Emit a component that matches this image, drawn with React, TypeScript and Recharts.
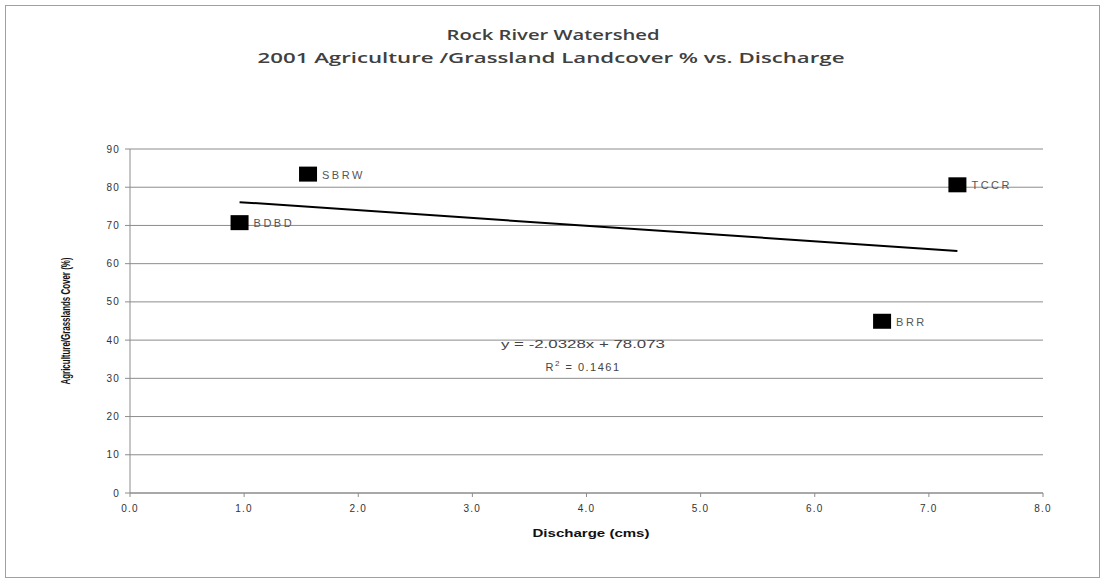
import React from "react";
import { ScatterChart, Scatter, XAxis, YAxis, CartesianGrid, Customized } from "recharts";

const siteNames = ["BDBD", "SBRW", "TCCR", "BRR"];
const discharge = [0.96, 1.56, 7.25, 6.59];
const agCover = [70.6, 83.3, 80.5, 44.8];
const trendX = [0.96, 7.25];
const trendY = [76.1, 63.3];
const xTicks = [0, 1, 2, 3, 4, 5, 6, 7, 8];
const yTicks = [0, 10, 20, 30, 40, 50, 60, 70, 80, 90];

const points = siteNames.map((name, i) => ({ name, x: discharge[i], y: agCover[i] }));
const trend = trendX.map((x, i) => ({ x, y: trendY[i] }));

const W = 1102;
const H = 584;

const SquareMarker = (props: any) => {
  const { cx, cy, payload } = props;
  return (
    <g>
      <rect x={cx - 9} y={cy - 8} width={18} height={15} fill="#000" />
      <text
        x={cx + 14}
        y={cy + 4}
        fontSize={11}
        fill="#555"
        letterSpacing={2.5}
        fontFamily="Liberation Sans, Arial, sans-serif"
      >
        {payload.name}
      </text>
    </g>
  );
};

const Overlay = () => (
  <g>
    <rect x={5.5} y={5.5} width={1094} height={572} fill="none" stroke="#a0a0a0" strokeWidth={1} />
    <text
      x={553}
      y={40}
      textAnchor="middle"
      fontSize={15}
      fontWeight={600}
      fill="#404040"
      textLength={213}
      lengthAdjust="spacingAndGlyphs"
      fontFamily="Open Sans, Liberation Sans, sans-serif"
    >
      Rock River Watershed
    </text>
    <text
      x={551}
      y={63}
      textAnchor="middle"
      fontSize={15}
      fontWeight={600}
      fill="#404040"
      textLength={587}
      lengthAdjust="spacingAndGlyphs"
      fontFamily="Open Sans, Liberation Sans, sans-serif"
    >
      2001 Agriculture /Grassland Landcover % vs. Discharge
    </text>
    <text
      x={591}
      y={537}
      textAnchor="middle"
      fontSize={10}
      fontWeight={700}
      fill="#111"
      textLength={117}
      lengthAdjust="spacingAndGlyphs"
      fontFamily="Liberation Sans, Arial, sans-serif"
    >
      Discharge (cms)
    </text>
    <text
      x={0}
      y={0}
      transform="translate(70,321) rotate(-90)"
      textAnchor="middle"
      fontSize={13}
      fontWeight={700}
      fill="#111"
      textLength={127}
      lengthAdjust="spacingAndGlyphs"
      fontFamily="Liberation Sans, Arial, sans-serif"
    >
      Agriculture/Grasslands Cover (%)
    </text>
    <text
      x={583}
      y={348}
      textAnchor="middle"
      fontSize={11}
      fill="#444"
      textLength={164}
      lengthAdjust="spacingAndGlyphs"
      fontFamily="Liberation Sans, Arial, sans-serif"
    >
      y = -2.0328x + 78.073
    </text>
    <text
      x={583}
      y={371}
      textAnchor="middle"
      fontSize={11}
      fill="#444"
      fontFamily="Liberation Sans, Arial, sans-serif"
      letterSpacing={1.5}
    >
      R<tspan dy={-5} fontSize={8}>2</tspan>
      <tspan dy={5}> = 0.1461</tspan>
    </text>
  </g>
);

const tickStyle = { fontSize: 10, fill: "#333", fontFamily: "Liberation Sans, Arial, sans-serif", letterSpacing: 1.2 };

export default function App() {
  return (
    <div style={{ position: "absolute", left: 0, top: 0, width: W, height: H, background: "#fff" }}>
      <ScatterChart width={W} height={H} margin={{ top: 149, right: 59, bottom: 61, left: 0 }}>
        <CartesianGrid horizontal vertical={false} stroke="#8c8c8c" strokeWidth={1} />
        <XAxis
          type="number"
          dataKey="x"
          domain={[0, 8]}
          ticks={xTicks}
          interval={0}
          tickFormatter={(v: number) => v.toFixed(1)}
          height={30}
          stroke="#8c8c8c"
          tickSize={4}
          tick={tickStyle}
          tickMargin={8}
          allowDataOverflow
        />
        <YAxis
          type="number"
          dataKey="y"
          domain={[0, 90]}
          ticks={yTicks}
          interval={0}
          width={130}
          stroke="#8c8c8c"
          tickSize={5}
          tick={tickStyle}
          tickMargin={5}
          allowDataOverflow
        />
        <Scatter
          data={trend}
          line={{ stroke: "#000", strokeWidth: 2 }}
          shape={() => null}
          isAnimationActive={false}
        />
        <Scatter data={points} shape={SquareMarker} isAnimationActive={false} />
        <Customized component={Overlay} />
      </ScatterChart>
    </div>
  );
}
